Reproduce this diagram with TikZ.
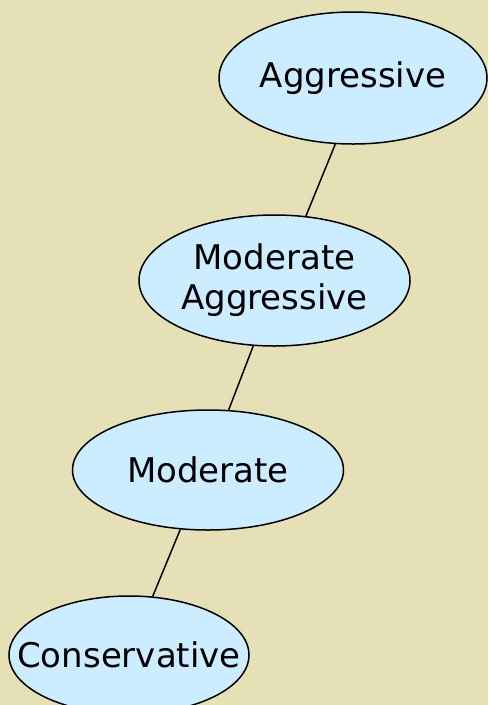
\documentclass[tikz,border=0pt]{standalone}
\usepackage{fontspec}
\setmainfont{DejaVu Sans}
\usetikzlibrary{shapes.geometric}
\definecolor{bg}{RGB}{230,224,182}
\definecolor{nodefill}{RGB}{204,236,255}
\begin{document}
\begin{tikzpicture}[x=1pt,y=-1pt,
 oval/.style={ellipse, draw=black, line width=1.5pt, fill=nodefill, inner sep=0pt, align=center, font=\fontsize{34}{40}\selectfont},
 link/.style={draw=black, line width=1.5pt}]
\useasboundingbox (0,0) rectangle (488,705);
\clip (0,0) rectangle (488,705);
\fill[bg] (0,0) rectangle (488,705);
\node[oval, minimum width=268pt, minimum height=132pt] (agg) at (353,78) {\makebox[0pt]{Aggressive}};
\node[oval, minimum width=271pt, minimum height=131pt] (modagg) at (274.5,280.5) {\makebox[0pt]{Moderate}\\\makebox[0pt]{Aggressive}};
\node[oval, minimum width=271pt, minimum height=120pt] (mod) at (208,470) {\makebox[0pt]{Moderate}};
\node[oval, minimum width=240pt, minimum height=118pt] (cons) at (129,655) {\makebox[0pt]{Conservative}};
\draw[link] (agg.-105) -- (modagg.64);
\draw[link] (modagg.-108) -- (mod.71);
\draw[link] (mod.-115) -- (cons.68);
\end{tikzpicture}
\end{document}
